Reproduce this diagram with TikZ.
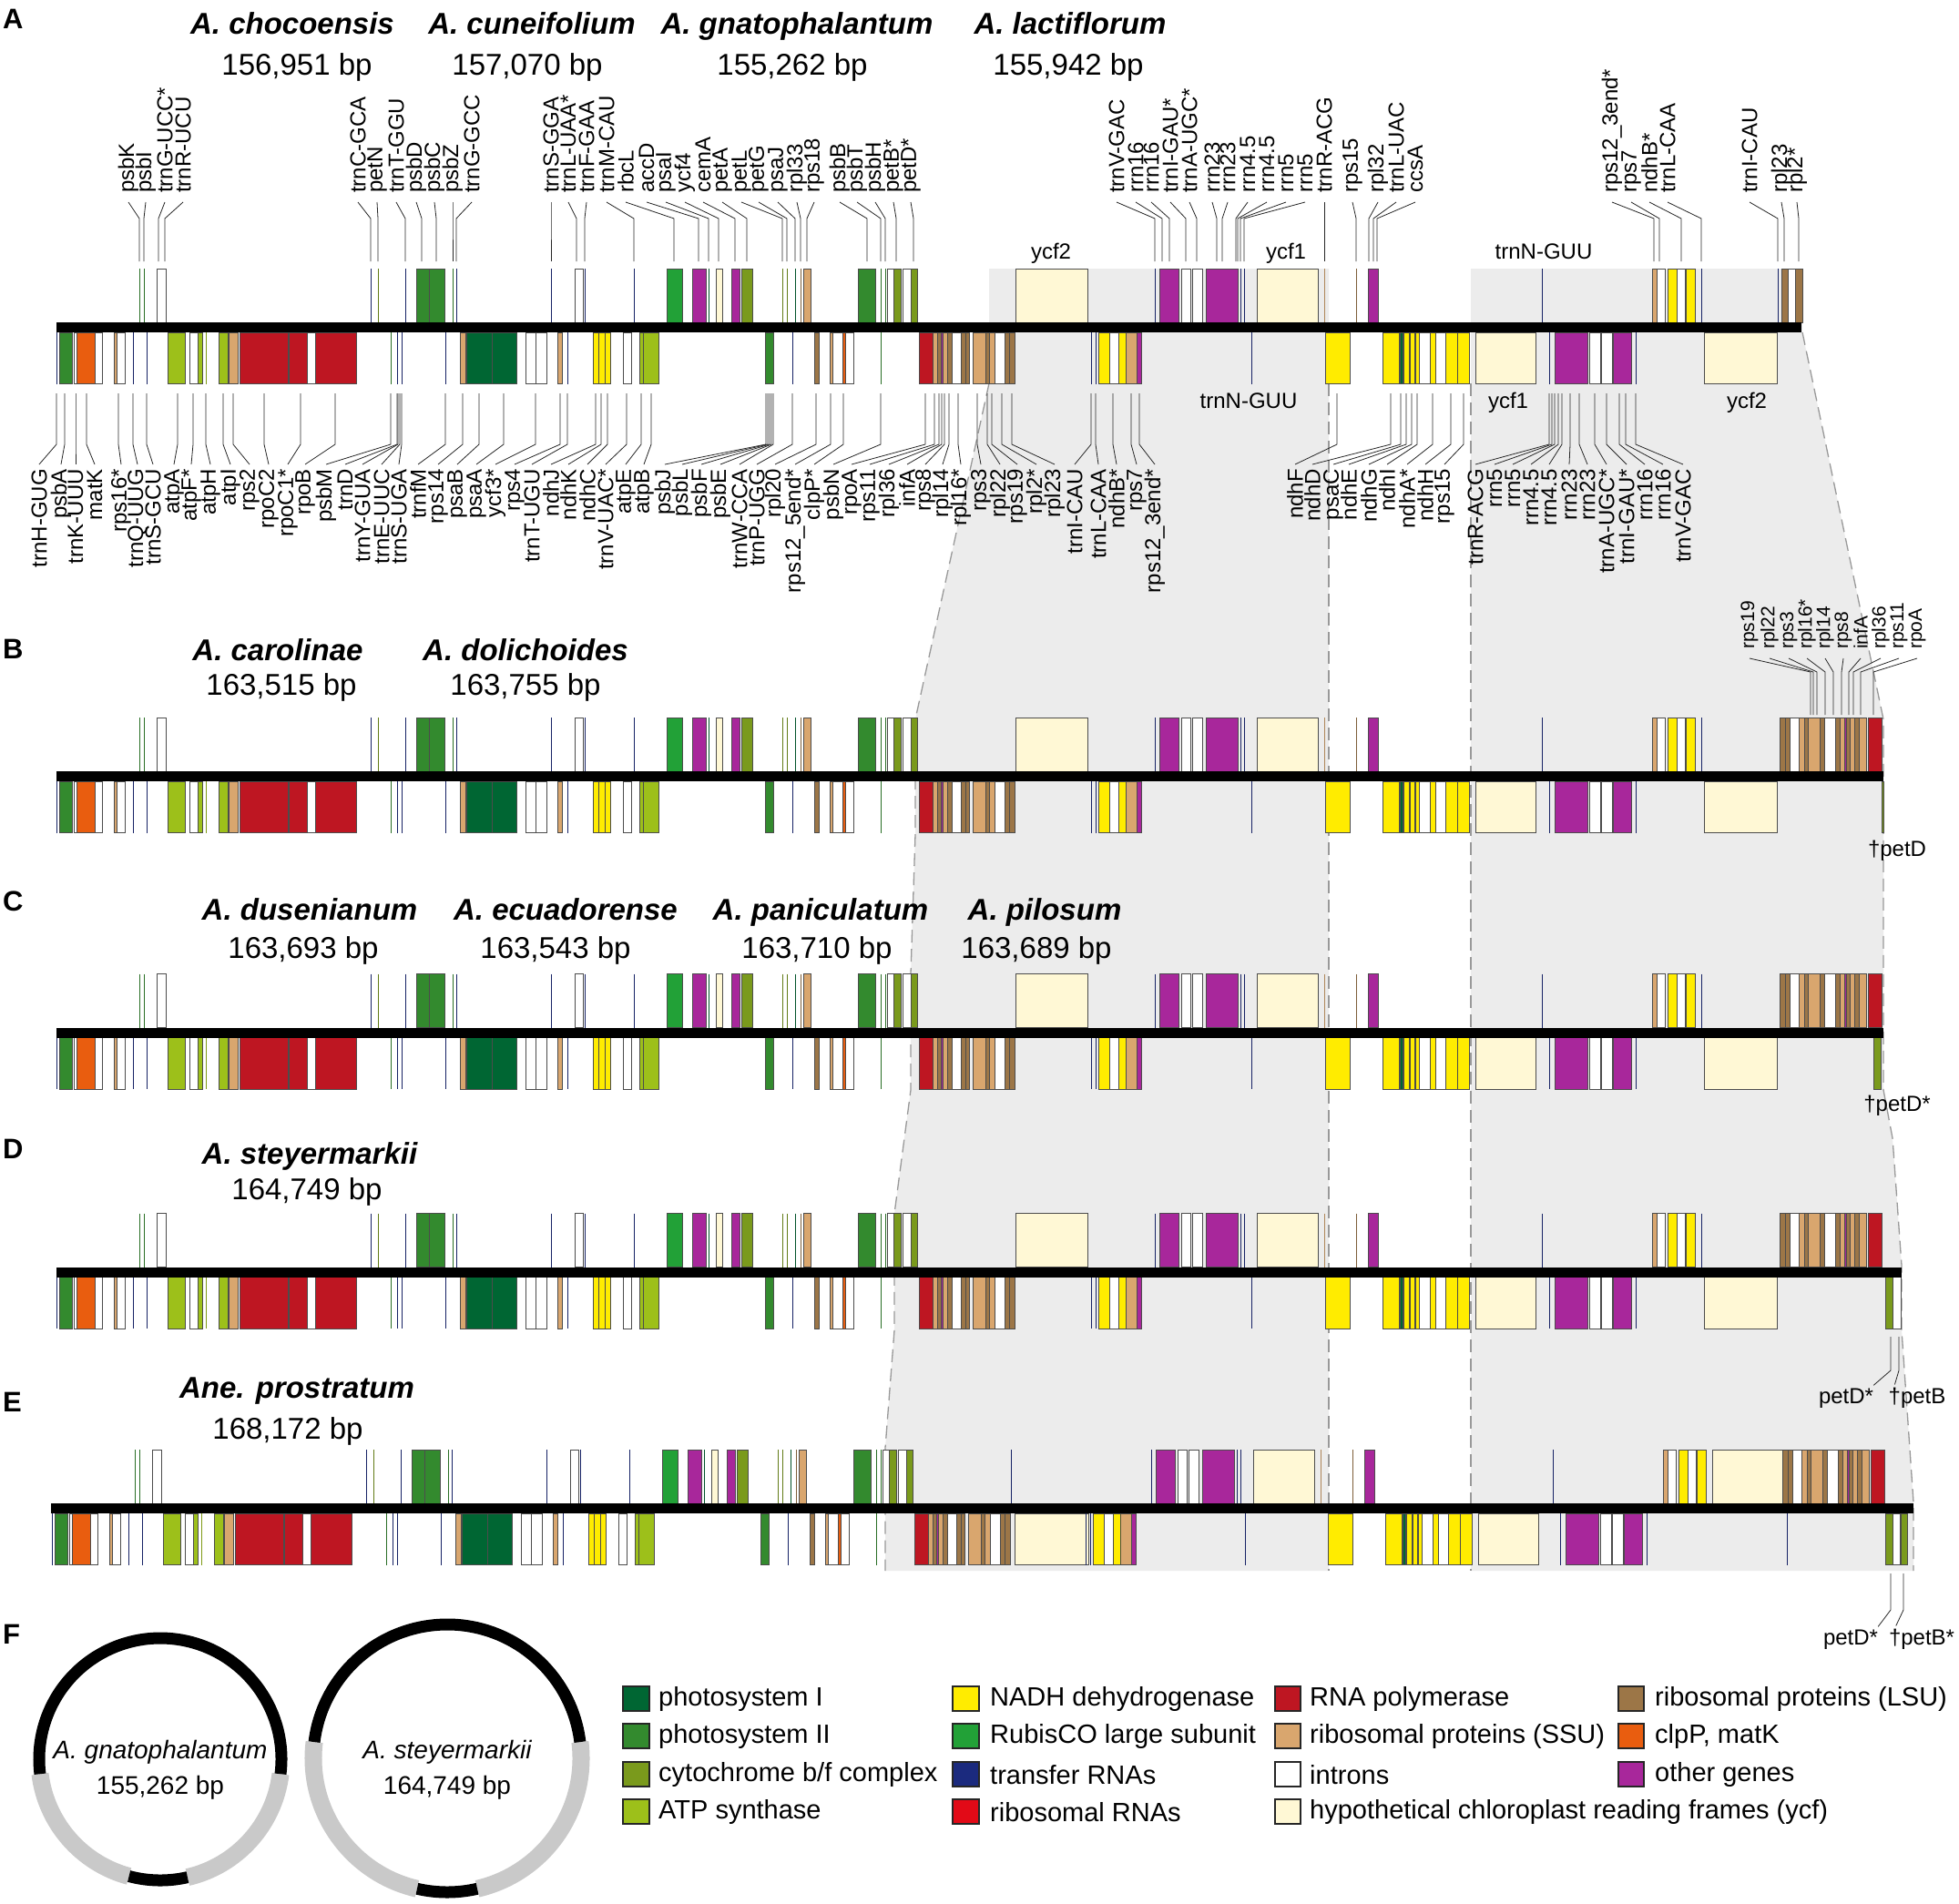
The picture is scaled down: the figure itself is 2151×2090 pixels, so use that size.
\documentclass[tikz,border=0pt]{standalone}
\usepackage{fontspec}
\setmainfont{Liberation Sans}
\definecolor{psI}{HTML}{006633}
\definecolor{psII}{HTML}{338A2E}
\definecolor{cyt}{HTML}{7A9A1C}
\definecolor{atp}{HTML}{9DC01A}
\definecolor{ndh}{HTML}{FFEC00}
\definecolor{rbc}{HTML}{22A137}
\definecolor{trna}{HTML}{1B2A7E}
\definecolor{rrna}{HTML}{E20A17}
\definecolor{rpo}{HTML}{BE1622}
\definecolor{ssu}{HTML}{D9A66E}
\definecolor{ycf}{HTML}{FFF8D5}
\definecolor{lsu}{HTML}{9C7647}
\definecolor{clp}{HTML}{E95D0F}
\definecolor{oth}{HTML}{A8279B}
\definecolor{irgray}{HTML}{ECECEC}
\definecolor{circgray}{HTML}{C9C9C9}
\newcommand\glabfont{\fontsize{24}{26}\selectfont}
\newcommand\rlabfont{\fontsize{21}{23}\selectfont}
\newcommand\namefont{\fontsize{33}{36}\selectfont\bfseries\itshape}
\newcommand\bpfont{\fontsize{33}{36}\selectfont}
\newcommand\legfont{\fontsize{29}{31}\selectfont}
\newcommand\circfont{\fontsize{28}{30}\selectfont}
\newcommand\panfont{\fontsize{31}{33}\selectfont\bfseries}
\tikzset{
  gbox/.style={draw=black!70, line width=0.6pt},
  chrom/.style={line width=11pt, black},
  glab/.style={rotate=90, inner sep=0pt, font=\glabfont},
  conn/.style={line width=0.8pt, black!85},
  spn/.style={font=\namefont, inner sep=0pt, anchor=base},
  bpn/.style={font=\bpfont, inner sep=0pt, anchor=base},
  hlab/.style={font=\glabfont, inner sep=0pt, anchor=base},
  pan/.style={font=\panfont, inner sep=0pt, anchor=base west},
  legsq/.style={draw=black!85, line width=2pt},
  legt/.style={font=\legfont, inner sep=0pt, anchor=west},
  dashb/.style={draw=black!40, line width=1.3pt, dash pattern=on 14pt off 7pt},
}
\newcommand\gtop[3]{\path[gbox,fill=#3] (#1,-64.5) rectangle (#2,-5.5);}
\newcommand\gbot[3]{\path[gbox,fill=#3] (#1,5.5) rectangle (#2,62);}
\newcommand\ltop[2]{\draw[#2!80!black,line width=1.0pt] (#1,-64.5) -- (#1,-5.5);}
\newcommand\lbot[2]{\draw[#2!80!black,line width=1.0pt] (#1,5.5) -- (#1,62);}
\newcounter{lb}
\newcommand\toplab[3]{\stepcounter{lb}\node[glab,anchor=west] (g\arabic{lb}) at (#1,212) {#3};\draw[conn] ([yshift=-10pt]g\arabic{lb}.west) -- (#2,240) -- (#2,287);}
\newcommand\botlab[3]{\stepcounter{lb}\node[glab,anchor=east] (g\arabic{lb}) at (#1,515) {#3};\draw[conn] (#2,432) -- (#2,488) -- ([yshift=5pt]g\arabic{lb}.east);}
\newcommand\rlab[3]{\stepcounter{lb}\node[glab,font=\rlabfont,anchor=west] (g\arabic{lb}) at (#1,713) {#3};\draw[conn] ([yshift=-10pt]g\arabic{lb}.west) -- (#2,738) -- (#2,785);}
\newcommand\lscTop{%
\ltop{153}{psII}\ltop{158}{psII}\gtop{172}{182}{white}
\ltop{407}{trna}\ltop{415}{cyt}\ltop{445}{trna}
\gtop{457}{471}{psII}\gtop{471}{488}{psII}
\ltop{497}{psII}\ltop{501}{trna}
\ltop{605}{trna}\gtop{631}{640}{white}\ltop{642}{trna}
\ltop{696}{trna}
\gtop{732}{749}{rbc}\gtop{760}{775}{oth}\ltop{778}{psI}
\gtop{786}{793}{ycf}\gtop{803}{812}{oth}\gtop{814}{826}{cyt}
\ltop{859}{cyt}\ltop{864}{cyt}\ltop{873}{psI}\ltop{879}{lsu}
\gtop{882}{890}{ssu}
\gtop{942}{961}{psII}\ltop{967}{psII}\ltop{972}{psII}
\gtop{974}{981}{white}\gtop{981}{989}{cyt}\gtop{991}{1000}{white}\gtop{1000}{1007}{cyt}}
\newcommand\lscBot{%
\lbot{62}{trna}\gbot{65}{79}{psII}
\gbot{81}{112}{white}\gbot{84}{104}{clp}
\gbot{125}{137}{white}\gbot{125}{128}{ssu}
\lbot{146}{trna}\lbot{161}{trna}
\gbot{184}{203}{atp}\gbot{208}{217}{white}\gbot{217}{222}{atp}
\lbot{226}{atp}\gbot{240}{250}{atp}\gbot{251}{261}{ssu}
\gbot{263}{316}{rpo}\gbot{317}{337}{rpo}\gbot{337}{346}{white}\gbot{346}{391}{rpo}
\lbot{429}{psII}\lbot{436}{trna}\lbot{441}{trna}
\lbot{489}{trna}\gbot{505}{511}{ssu}
\gbot{512}{540}{psI}\gbot{540}{567}{psI}
\gbot{577}{588}{white}\gbot{588}{600}{white}
\gbot{612}{617}{ssu}\lbot{623}{trna}
\gbot{651}{657}{ndh}\gbot{657}{664}{ndh}\gbot{664}{670}{ndh}
\gbot{684}{693}{white}
\gbot{702}{706}{atp}\gbot{706}{723}{atp}
\gbot{840}{849}{psII}\lbot{870}{trna}
\gbot{894}{899}{lsu}
\gbot{911}{914}{ssu}\gbot{914}{925}{white}\gbot{925}{928}{clp}\gbot{928}{937}{white}
\lbot{967}{psII}
\gbot{1009}{1024}{rpo}
\gbot{1024}{1029}{ssu}\gbot{1029}{1033}{lsu}\gbot{1033}{1035}{oth}\gbot{1035}{1040}{ssu}
\gbot{1040}{1045}{lsu}\gbot{1045}{1055}{white}\gbot{1055}{1060}{lsu}\gbot{1060}{1064}{lsu}
\gbot{1068}{1082}{ssu}\gbot{1082}{1086}{lsu}\gbot{1086}{1092}{ssu}\gbot{1092}{1103}{white}
\gbot{1103}{1108}{lsu}\gbot{1108}{1114}{lsu}}
\newcommand\irTopMid{%
\ltop{1268}{trna}
\gtop{1273}{1294}{oth}\gtop{1297}{1307}{white}\gtop{1309}{1320}{white}\gtop{1324}{1359}{oth}
\ltop{1362}{trna}\ltop{1366}{trna}
\gtop{1380}{1447}{ycf}
\ltop{1454}{ssu}\ltop{1489}{lsu}\gtop{1502}{1513}{oth}}
\newcommand\irTopRight{%
\ltop{1693}{trna}
\gtop{1814}{1819}{ssu}\gtop{1819}{1828}{white}\gtop{1831}{1841}{ndh}\gtop{1841}{1850}{white}\gtop{1851}{1861}{ndh}
\ltop{1868}{trna}}
\newcommand\irBotLeft{%
\lbot{1198}{trna}\lbot{1203}{trna}
\gbot{1206}{1218}{ndh}\gbot{1218}{1228}{white}\gbot{1228}{1236}{ndh}\gbot{1236}{1248}{ssu}\gbot{1248}{1253}{oth}}
\newcommand\sscBot{%
\gbot{1455}{1482}{ndh}
\gbot{1518}{1536}{ndh}\gbot{1537}{1540}{psI}\gbot{1541}{1547}{ndh}\gbot{1548}{1553}{ndh}\gbot{1554}{1558}{ndh}
\gbot{1558}{1570}{white}\gbot{1570}{1576}{ndh}\gbot{1576}{1587}{white}\gbot{1587}{1600}{ndh}\gbot{1600}{1613}{ndh}
\gbot{1620}{1686}{ycf}}
\newcommand\irBotRight{%
\lbot{1701}{trna}\gbot{1707}{1743}{oth}
\gbot{1745}{1757}{white}\gbot{1758}{1770}{white}
\gbot{1771}{1791}{oth}\lbot{1796}{trna}}
\newcommand\irEnd{%
\gtop{1954}{1960}{lsu}\gtop{1960}{1965}{lsu}\gtop{1965}{1975}{white}\gtop{1975}{1981}{ssu}
\gtop{1981}{1985}{lsu}\gtop{1985}{1998}{ssu}\gtop{1998}{2003}{lsu}\gtop{2003}{2015}{white}
\gtop{2015}{2020}{lsu}\gtop{2020}{2025}{ssu}\gtop{2025}{2027}{oth}\gtop{2027}{2031}{lsu}
\gtop{2031}{2036}{ssu}\gtop{2036}{2041}{lsu}\gtop{2041}{2049}{ssu}\gtop{2051}{2066}{rpo}}
\newcommand\stdPanel{%
\lscTop\lscBot
\gtop{1115}{1194}{ycf}\irTopMid\irTopRight
\irBotLeft\lbot{1374}{trna}\sscBot\irBotRight
\gbot{1871}{1951}{ycf}}
\begin{document}
\begin{tikzpicture}[x=1pt,y=-1pt]
\useasboundingbox (0,0) rectangle (2151,2090);
\fill[white] (0,0) rectangle (2151,2090);
% inverted repeat shading
\fill[irgray] (1086,295) -- (1459,295) -- (1459,1725) -- (972,1725) -- (972,1590) -- (982,1461) -- (982,1333) -- (1000,1197) -- (1000,1069) -- (1005,916) -- (1005,790) -- (1086,421) -- cycle;
\fill[irgray] (1615,295) -- (1979,295) -- (1979,365) -- (2068,790) -- (2068,1197) -- (2078,1250) -- (2088,1390) -- (2088,1461) -- (2101,1650) -- (2101,1725) -- (1615,1725) -- cycle;
\draw[dashb] (1086,421) -- (1005,790) -- (1005,916) -- (1000,1069) -- (1000,1197) -- (982,1333) -- (982,1461) -- (972,1590) -- (972,1725);
\draw[dashb] (1979,365) -- (2068,790) -- (2068,1197) -- (2078,1250) -- (2088,1390) -- (2088,1461) -- (2101,1650) -- (2101,1725);
\draw[dashb] (1459,421) -- (1459,1725);
\draw[dashb] (1615,421) -- (1615,1725);

% ===== Panel A =====
\node[pan] (pA) at (3,32) {A};
\node[spn] (nA1) at (321,38) {A. chocoensis};
\node[spn] (nA2) at (584,38) {A. cuneifolium};
\node[spn] (nA3) at (875,38) {A. gnatophalantum};
\node[spn] (nA4) at (1175,38) {A. lactiflorum};
\node[bpn] (bA1) at (326,83) {156,951 bp};
\node[bpn] (bA2) at (579,83) {157,070 bp};
\node[bpn] (bA3) at (870,83) {155,262 bp};
\node[bpn] (bA4) at (1173,83) {155,942 bp};
\begin{scope}[shift={(0,359.5)}]
\stdPanel
\ltop{1952}{trna}\gtop{1956}{1963}{lsu}\gtop{1963}{1971}{white}\gtop{1971}{1979}{lsu}
\draw[chrom] (62,0) -- (1978,0);
\end{scope}
\node[hlab] (hA1) at (1154,284) {ycf2};
\node[hlab] (hA2) at (1412,284) {ycf1};
\node[hlab] (hA3) at (1695,284) {trnN-GUU};
\node[hlab] (hA4) at (1371,448) {trnN-GUU};
\node[hlab] (hA5) at (1656,448) {ycf1};
\node[hlab] (hA6) at (1918,448) {ycf2};
\toplab{141}{153}{psbK}
\toplab{160}{158}{psbI}
\toplab{181}{174}{trnG-UCC*}
\toplab{201}{181}{trnR-UCU}
\toplab{393}{407}{trnC-GCA}
\toplab{414}{415}{petN}
\toplab{435}{445}{trnT-GGU}
\toplab{457}{463}{psbD}
\toplab{477}{479}{psbC}
\toplab{497}{497}{psbZ}
\toplab{518}{501}{trnG-GCC}
\toplab{605}{605}{trnS-GGA}
\toplab{624}{633}{trnL-UAA*}
\toplab{644}{642}{trnF-GAA}
\toplab{666}{696}{trnM-CAU}
\toplab{687}{740}{rbcL}
\toplab{710}{767}{accD}
\toplab{731}{778}{psaI}
\toplab{752}{789}{ycf4}
\toplab{772}{807}{cemA}
\toplab{793}{820}{petA}
\toplab{814}{859}{petL}
\toplab{833}{864}{petG}
\toplab{854}{873}{psaJ}
\toplab{875}{879}{rpl33}
\toplab{894}{886}{rps18}
\toplab{922}{952}{psbB}
\toplab{941}{967}{psbT}
\toplab{961}{972}{psbH}
\toplab{981}{984}{petB*}
\toplab{1000}{1003}{petD*}
\toplab{1226}{1268}{trnV-GAC}
\toplab{1247}{1276}{rrn16}
\toplab{1264}{1284}{rrn16}
\toplab{1285}{1302}{trnI-GAU*}
\toplab{1306}{1314}{trnA-UGC*}
\toplab{1331}{1336}{rrn23}
\toplab{1348}{1342}{rrn23}
\toplab{1370}{1357}{rrn4.5}
\toplab{1391}{1359}{rrn4.5}
\toplab{1412}{1362}{rrn5}
\toplab{1433}{1366}{rrn5}
\toplab{1454}{1454}{trnR-ACG}
\toplab{1485}{1489}{rps15}
\toplab{1513}{1503}{rpl32}
\toplab{1533}{1508}{trnL-UAC}
\toplab{1554}{1512}{ccsA}
\toplab{1770}{1816}{rps12\_3end*}
\toplab{1791}{1822}{rps7}
\toplab{1811}{1846}{ndhB*}
\toplab{1831}{1868}{trnL-CAA}
\toplab{1921}{1952}{trnI-CAU}
\toplab{1956}{1959}{rpl23}
\toplab{1973}{1975}{rpl2*}
\botlab{43}{62}{trnH-GUG}
\botlab{67}{71}{psbA}
\botlab{83}{83}{trnK-UUU}
\botlab{104}{95}{matK}
\botlab{133}{130}{rps16*}
\botlab{151}{146}{trnQ-UUG}
\botlab{168}{161}{trnS-GCU}
\botlab{191}{195}{atpA}
\botlab{210}{212}{atpF*}
\botlab{231}{226}{atpH}
\botlab{253}{245}{atpI}
\botlab{274}{256}{rps2}
\botlab{295}{290}{rpoC2}
\botlab{316}{330}{rpoC1*}
\botlab{335}{368}{rpoB}
\botlab{358}{429}{psbM}
\botlab{379}{436}{trnD}
\botlab{398}{437}{trnY-GUA}
\botlab{419}{439}{trnE-UUC}
\botlab{438}{441}{trnS-UGA}
\botlab{459}{489}{trnfM}
\botlab{481}{508}{rps14}
\botlab{502}{526}{psaB}
\botlab{523}{553}{psaA}
\botlab{544}{588}{ycf3*}
\botlab{565}{615}{rps4}
\botlab{584}{623}{trnT-UGU}
\botlab{605}{654}{ndhJ}
\botlab{624}{660}{ndhK}
\botlab{645}{667}{ndhC}
\botlab{665}{688}{trnV-UAC*}
\botlab{687}{704}{atpE}
\botlab{707}{715}{atpB}
\botlab{730}{841}{psbJ}
\botlab{749}{843}{psbL}
\botlab{770}{845}{psbF}
\botlab{791}{847}{psbE}
\botlab{812}{849}{trnW-CCA}
\botlab{831}{870}{trnP-UGG}
\botlab{851}{896}{rpl20}
\botlab{873}{912}{rps12\_5end*}
\botlab{894}{926}{clpP*}
\botlab{915}{967}{psbN}
\botlab{935}{1016}{rpoA}
\botlab{955}{1026}{rps11}
\botlab{976}{1031}{rpl36}
\botlab{996}{1034}{infA}
\botlab{1016}{1037}{rps8}
\botlab{1035}{1042}{rpl14}
\botlab{1055}{1052}{rpl16*}
\botlab{1077}{1073}{rps3}
\botlab{1098}{1084}{rpl22}
\botlab{1117}{1089}{rps19}
\botlab{1138}{1100}{rpl2*}
\botlab{1158}{1111}{rpl23}
\botlab{1180}{1198}{trnI-CAU}
\botlab{1206}{1203}{trnL-CAA}
\botlab{1226}{1222}{ndhB*}
\botlab{1248}{1242}{rps7}
\botlab{1268}{1251}{rps12\_3end*}
\botlab{1422}{1468}{ndhF}
\botlab{1441}{1527}{ndhD}
\botlab{1464}{1538}{psaC}
\botlab{1481}{1544}{ndhE}
\botlab{1503}{1550}{ndhG}
\botlab{1523}{1556}{ndhI}
\botlab{1545}{1573}{ndhA*}
\botlab{1565}{1593}{ndhH}
\botlab{1586}{1607}{rps15}
\botlab{1620}{1701}{trnR-ACG}
\botlab{1641}{1704}{rrn5}
\botlab{1661}{1707}{rrn5}
\botlab{1681}{1711}{rrn4.5}
\botlab{1701}{1715}{rrn4.5}
\botlab{1723}{1724}{rrn23}
\botlab{1743}{1734}{rrn23}
\botlab{1764}{1751}{trnA-UGC*}
\botlab{1786}{1764}{trnI-GAU*}
\botlab{1806}{1778}{rrn16}
\botlab{1826}{1785}{rrn16}
\botlab{1848}{1796}{trnV-GAC}

% ===== Panel B =====
\node[pan] (pB) at (3,723) {B};
\node[spn] (nB1) at (305,725) {A. carolinae};
\node[spn] (nB2) at (577,725) {A. dolichoides};
\node[bpn] (bB1) at (309,763) {163,515 bp};
\node[bpn] (bB2) at (577,763) {163,755 bp};
\begin{scope}[shift={(0,852.5)}]
\stdPanel\irEnd
\gbot{2066}{2068}{cyt}
\draw[chrom] (62,0) -- (2068,0);
\end{scope}
\rlab{1921}{1988}{rps19}
\rlab{1943}{1991}{rpl22}
\rlab{1964}{1995}{rps3}
\rlab{1984}{2004}{rpl16*}
\rlab{2004}{2013}{rpl14}
\rlab{2024}{2022}{rps8}
\rlab{2043}{2030}{infA}
\rlab{2065}{2035}{rpl36}
\rlab{2085}{2043}{rps11}
\rlab{2105}{2057}{rpoA}
\node[hlab] (dB) at (2083,940) {†petD};

% ===== Panel C =====
\node[pan] (pC) at (3,1000) {C};
\node[spn] (nC1) at (340,1010) {A. dusenianum};
\node[spn] (nC2) at (621,1010) {A. ecuadorense};
\node[spn] (nC3) at (901,1010) {A. paniculatum};
\node[spn] (nC4) at (1147,1010) {A. pilosum};
\node[bpn] (bC1) at (333,1052) {163,693 bp};
\node[bpn] (bC2) at (610,1052) {163,543 bp};
\node[bpn] (bC3) at (897,1052) {163,710 bp};
\node[bpn] (bC4) at (1138,1052) {163,689 bp};
\begin{scope}[shift={(0,1134)}]
\stdPanel\irEnd
\gbot{2057}{2065}{cyt}
\draw[chrom] (62,0) -- (2068,0);
\end{scope}
\node[hlab] (dC) at (2083,1220) {†petD*};

% ===== Panel D =====
\node[pan] (pD) at (3,1272) {D};
\node[spn] (nD1) at (340,1278) {A. steyermarkii};
\node[bpn] (bD1) at (337,1317) {164,749 bp};
\begin{scope}[shift={(0,1397)}]
\stdPanel\irEnd
\gbot{2070}{2078}{cyt}\gbot{2078}{2087}{white}
\draw[chrom] (62,0) -- (2088,0);
\end{scope}
\node[hlab] (dD1) at (2027,1541) {petD*};
\node[hlab] (dD2) at (2105,1541) {†petB};
\draw[conn] (2076,1468) -- (2076,1505) -- ([yshift=3pt]dD1.north east);
\draw[conn] (2085,1468) -- (2085,1505) -- ([xshift=7pt,yshift=3pt]dD2.north west);

% ===== Panel E =====
\node[pan] (pE) at (3,1550) {E};
\node[spn] (nE1) at (326,1535) {Ane. prostratum};
\node[bpn] (bE1) at (316,1580) {168,172 bp};
\begin{scope}[shift={(0,1656.5)}]
\begin{scope}[xshift=-5pt]\lscTop\lscBot\end{scope}
\ltop{1110}{trna}
\begin{scope}[xshift=-4pt]\irTopMid\end{scope}
\begin{scope}[xshift=12pt]\irTopRight\end{scope}
\gtop{1880}{1958}{ycf}
\begin{scope}[xshift=3pt]\irEnd\end{scope}
\gbot{1114}{1195}{ycf}
\begin{scope}[xshift=-6pt]\irBotLeft\end{scope}
\lbot{1367}{trna}
\begin{scope}[xshift=3pt]\sscBot\end{scope}
\begin{scope}[xshift=12pt]\irBotRight\end{scope}
\lbot{1962}{trna}
\gbot{2070}{2078}{cyt}\gbot{2078}{2086}{white}\gbot{2087}{2094}{cyt}
\draw[chrom] (56,0) -- (2101,0);
\end{scope}
\node[hlab] (dE1) at (2032,1806) {petD*};
\node[hlab] (dE2) at (2110,1806) {†petB*};
\draw[conn] (2076,1728) -- (2076,1768) -- ([yshift=3pt]dE1.north east);
\draw[conn] (2090,1728) -- (2090,1768) -- ([xshift=8pt,yshift=3pt]dE2.north west);

% ===== Panel F =====
\node[pan] (pF) at (3,1805) {F};
\begin{scope}[shift={(176,1932)},x=1pt,y=1pt]
\draw[circgray,line width=19pt] (187:133) arc[start angle=187,end angle=255,radius=133];
\draw[circgray,line width=19pt] (283:133) arc[start angle=283,end angle=353,radius=133];
\draw[black,line width=13pt] (-7:133) arc[start angle=-7,end angle=187,radius=133];
\draw[black,line width=13pt] (255:133) arc[start angle=255,end angle=283,radius=133];
\end{scope}
\node[font=\circfont\itshape, inner sep=0pt, anchor=base] (c1a) at (176,1931) {A. gnatophalantum};
\node[font=\circfont, inner sep=0pt, anchor=base] (c1b) at (176,1970) {155,262 bp};
\begin{scope}[shift={(491,1931)},x=1pt,y=1pt]
\draw[circgray,line width=19pt] (173:147) arc[start angle=173,end angle=257,radius=147];
\draw[circgray,line width=19pt] (283:147) arc[start angle=283,end angle=367,radius=147];
\draw[black,line width=13pt] (7:147) arc[start angle=7,end angle=173,radius=147];
\draw[black,line width=13pt] (257:147) arc[start angle=257,end angle=283,radius=147];
\end{scope}
\node[font=\circfont\itshape, inner sep=0pt, anchor=base] (c2a) at (491,1931) {A. steyermarkii};
\node[font=\circfont, inner sep=0pt, anchor=base] (c2b) at (491,1970) {164,749 bp};

% legend
\path[legsq,fill=psI] (684,1852) rectangle (713,1879);
\path[legsq,fill=psII] (684,1893) rectangle (713,1920);
\path[legsq,fill=cyt] (684,1935) rectangle (713,1962);
\path[legsq,fill=atp] (684,1976) rectangle (713,2003);
\node[legt] (l1) at (723,1866) {photosystem I};
\node[legt] (l2) at (723,1907) {photosystem II};
\node[legt] (l3) at (723,1949) {cytochrome b/f complex};
\node[legt] (l4) at (723,1990) {ATP synthase};
\path[legsq,fill=ndh] (1046,1852) rectangle (1075,1879);
\path[legsq,fill=rbc] (1046,1893) rectangle (1075,1920);
\path[legsq,fill=trna] (1046,1935) rectangle (1075,1962);
\path[legsq,fill=rrna] (1046,1976) rectangle (1075,2003);
\node[legt] (l5) at (1087,1866) {NADH dehydrogenase};
\node[legt] (l6) at (1087,1907) {RubisCO large subunit};
\node[legt] (l7) at (1087,1949) {transfer RNAs};
\node[legt] (l8) at (1087,1990) {ribosomal RNAs};
\path[legsq,fill=rpo] (1400,1852) rectangle (1428,1879);
\path[legsq,fill=ssu] (1400,1893) rectangle (1428,1920);
\path[legsq,fill=white] (1400,1935) rectangle (1428,1962);
\path[legsq,fill=ycf] (1400,1976) rectangle (1428,2003);
\node[legt] (l9) at (1438,1866) {RNA polymerase};
\node[legt] (l10) at (1438,1907) {ribosomal proteins (SSU)};
\node[legt] (l11) at (1438,1949) {introns};
\node[legt] (l12) at (1438,1990) {hypothetical chloroplast reading frames (ycf)};
\path[legsq,fill=lsu] (1777,1852) rectangle (1805,1879);
\path[legsq,fill=clp] (1777,1893) rectangle (1805,1920);
\path[legsq,fill=oth] (1777,1935) rectangle (1805,1962);
\node[legt] (l13) at (1817,1866) {ribosomal proteins (LSU)};
\node[legt] (l14) at (1817,1907) {clpP, matK};
\node[legt] (l15) at (1817,1949) {other genes};
\end{tikzpicture}
\end{document}
